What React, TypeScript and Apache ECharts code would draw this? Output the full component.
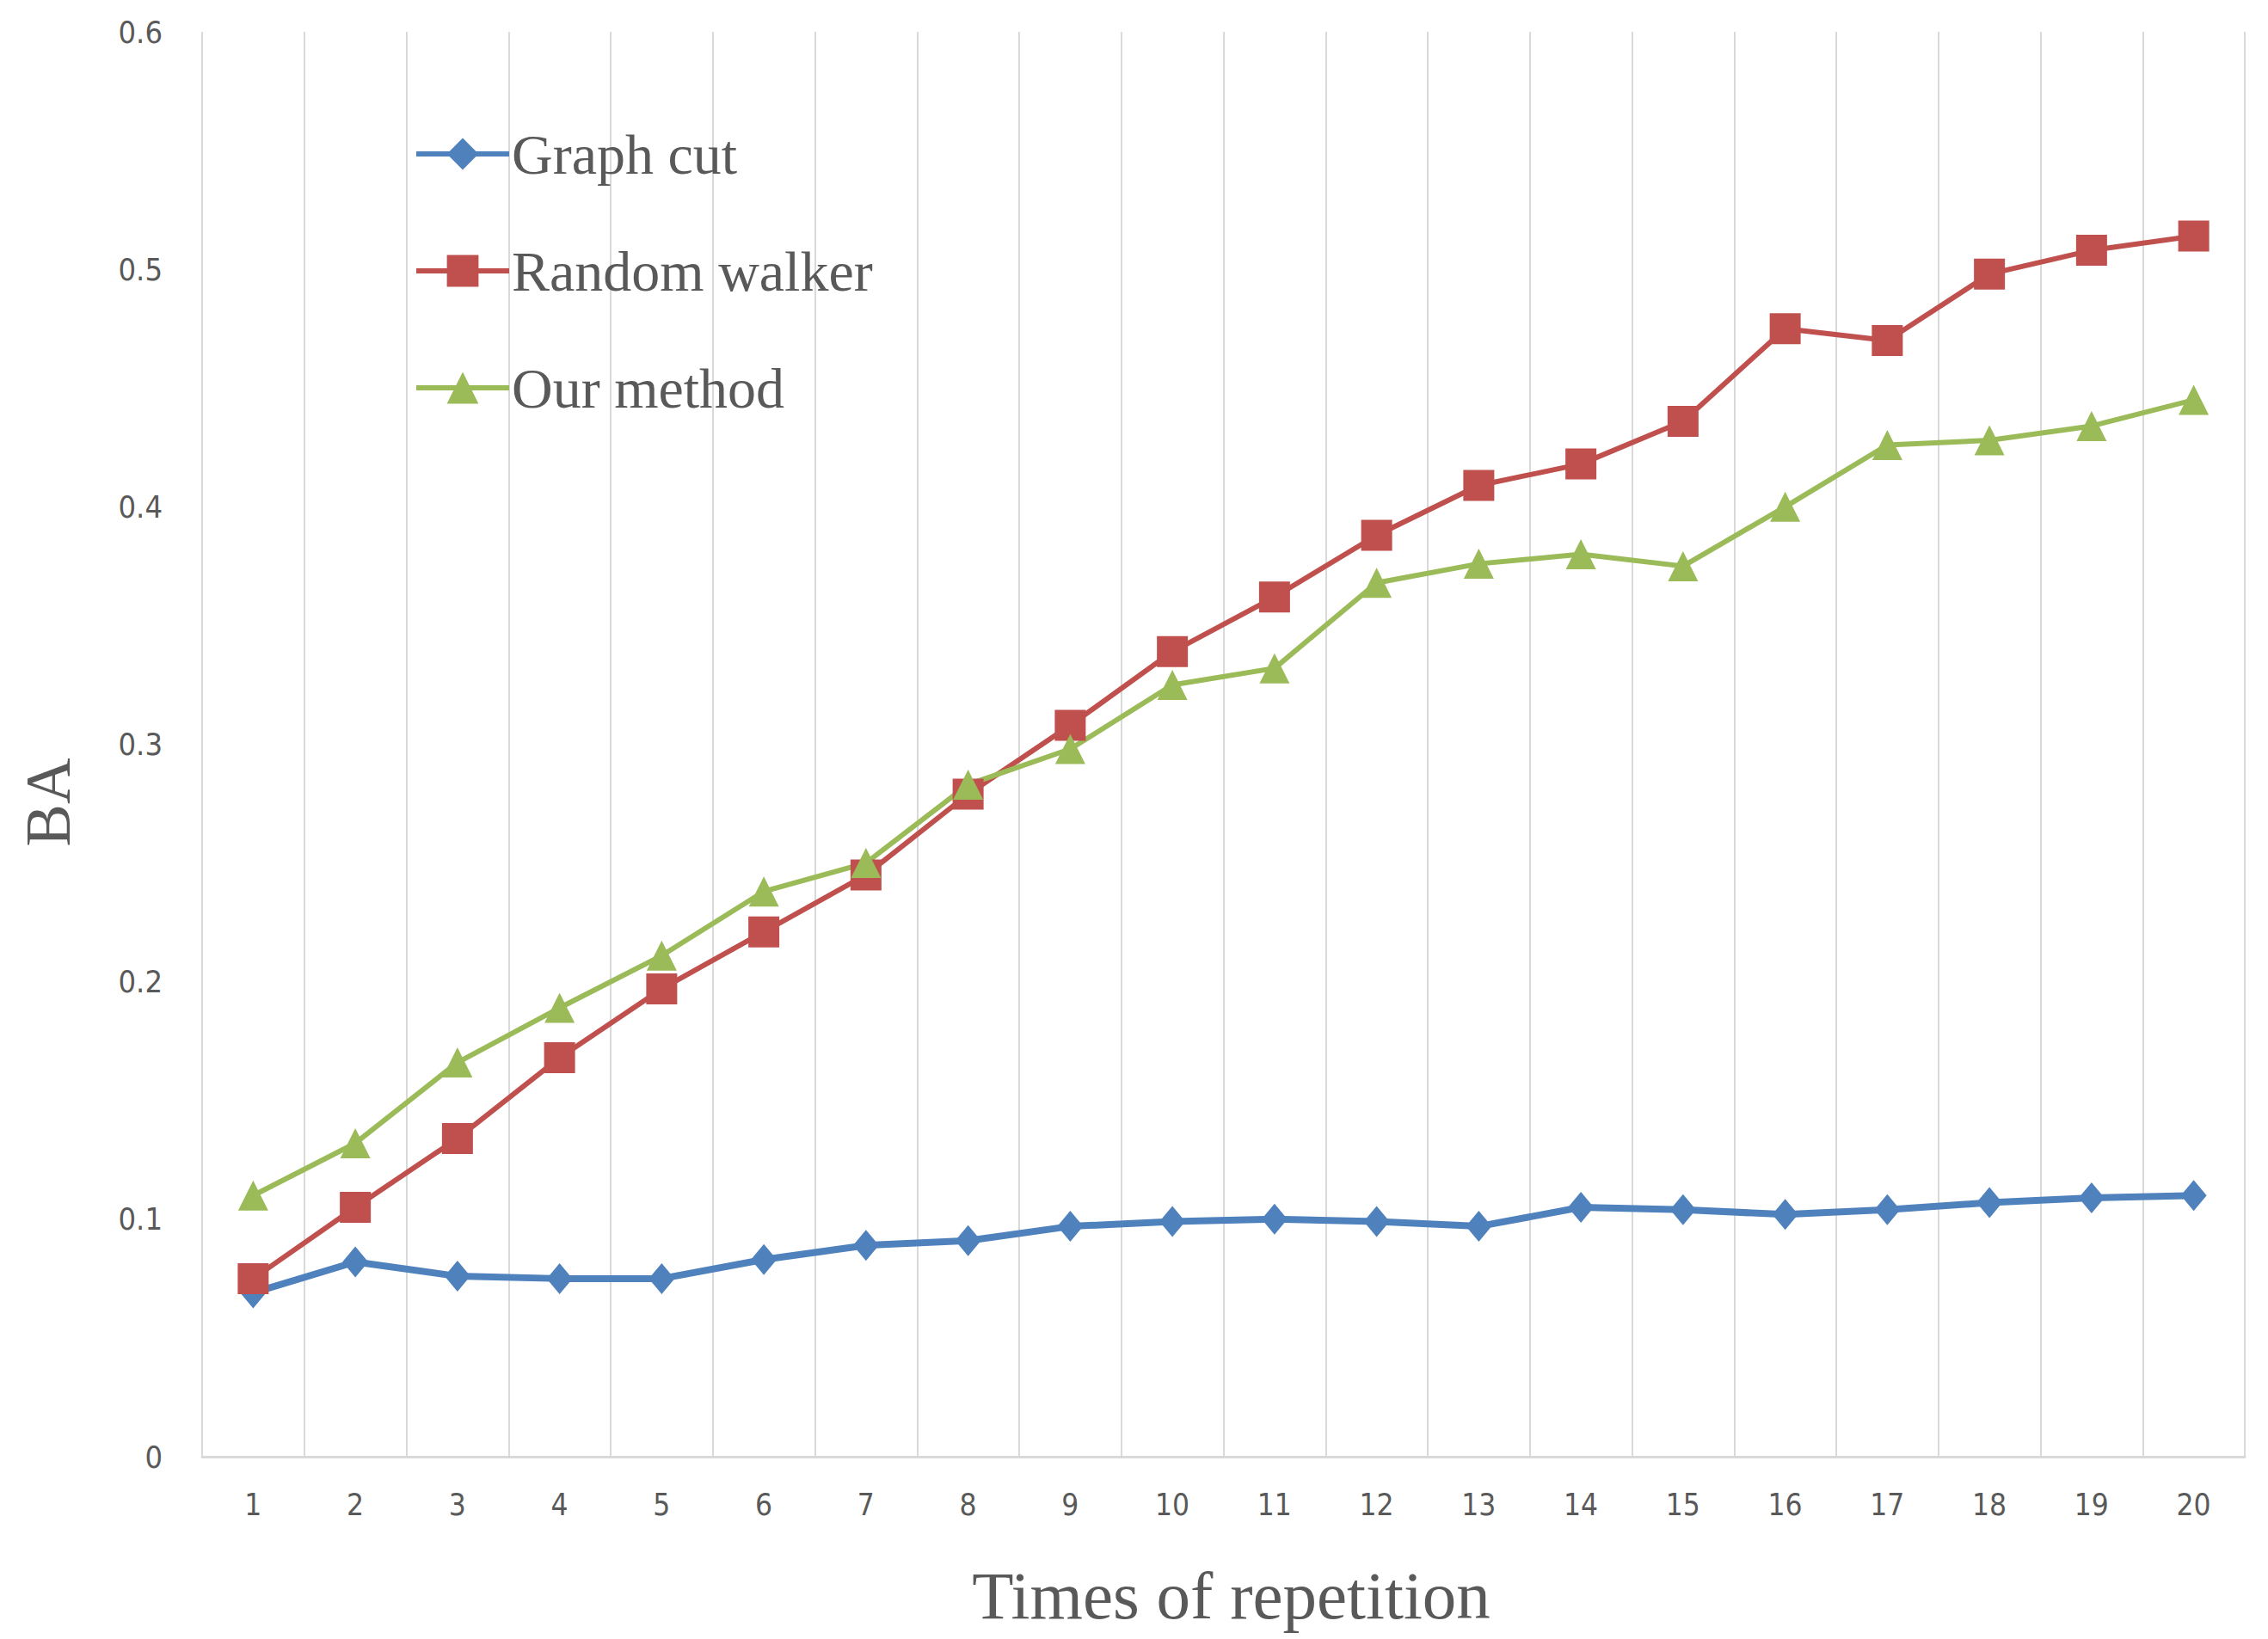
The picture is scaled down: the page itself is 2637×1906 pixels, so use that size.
import React, { useEffect, useRef } from "react";
import * as echarts from "echarts";

const categories = ["1", "2", "3", "4", "5", "6", "7", "8", "9", "10", "11", "12", "13", "14", "15", "16", "17", "18", "19", "20"];
const graphCut = [0.069, 0.082, 0.076, 0.075, 0.075, 0.083, 0.089, 0.091, 0.097, 0.099, 0.1, 0.099, 0.097, 0.105, 0.104, 0.102, 0.104, 0.107, 0.109, 0.11];
const randomWalker = [0.075, 0.105, 0.134, 0.168, 0.197, 0.221, 0.245, 0.279, 0.308, 0.339, 0.362, 0.388, 0.409, 0.418, 0.436, 0.475, 0.47, 0.498, 0.508, 0.514];
const ourMethod = [0.11, 0.132, 0.166, 0.189, 0.211, 0.238, 0.25, 0.283, 0.298, 0.325, 0.332, 0.368, 0.376, 0.38, 0.375, 0.4, 0.426, 0.428, 0.434, 0.445];
const seriesNames = ["Graph cut", "Random walker", "Our method"];
const yTitle = "BA";
const xTitle = "Times of repetition";

const SERIF = "'Liberation Serif', 'DejaVu Serif', serif";
const SANS = "'Liberation Sans Narrow', 'DejaVu Sans Condensed', 'Liberation Sans', sans-serif";
const TXT = "#595959";

export default function App() {
  const ref = useRef<HTMLDivElement>(null);
  useEffect(() => {
    if (!ref.current) return;
    const chart = echarts.init(ref.current, undefined, { renderer: "svg" });
    const mk = (name: string, data: number[], color: string, symbol: string, size: any, width: number) => ({
      name,
      type: "line",
      data,
      symbol,
      symbolSize: size,
      showSymbol: true,
      lineStyle: { color, width },
      itemStyle: { color },
      z: 3,
    });
    chart.setOption({
      animation: false,
      backgroundColor: "#ffffff",
      grid: { left: 235, right: 27, top: 37, bottom: 212, containLabel: false },
      legend: {
        orient: "vertical",
        left: 476,
        top: 141,
        itemWidth: 108,
        itemHeight: 46,
        itemGap: 70,
        data: seriesNames,
        lineStyle: { width: 6 },
        textStyle: { fontFamily: SERIF, fontSize: 66, color: TXT, lineHeight: 66, padding: [0, 0, 0, -2] },
      },
      graphic: [
        {
          type: "text",
          x: 56,
          y: 933,
          rotation: Math.PI / 2,
          style: { text: yTitle, fontFamily: SERIF, fontSize: 74, fill: TXT, align: "center", verticalAlign: "middle" },
        },
      ],
      xAxis: {
        type: "category",
        data: categories,
        boundaryGap: true,
        name: xTitle,
        nameLocation: "middle",
        nameGap: 122,
        nameTextStyle: { fontFamily: SERIF, fontSize: 79, color: TXT, padding: [0, 0, 0, 18] },
        axisLine: { show: true, lineStyle: { color: "#d9d9d9", width: 3 } },
        axisTick: { show: false },
        axisLabel: { margin: 38, fontFamily: SANS, fontSize: 35, color: TXT },
        splitLine: { show: true, lineStyle: { color: "#d9d9d9", width: 2 } },
      },
      yAxis: {
        type: "value",
        min: 0,
        max: 0.6,
        interval: 0.1,
        axisLine: { show: false },
        axisTick: { show: false },
        splitLine: { show: false },
        axisLabel: {
          margin: 46,
          fontFamily: SANS,
          fontSize: 36,
          color: TXT,
          formatter: (v: number) => (v === 0 ? "0" : String(Math.round(v * 10) / 10)),
        },
      },
      series: [
        mk(seriesNames[0], graphCut, "#4f81bd", "diamond", [30, 36], 8),
        mk(seriesNames[1], randomWalker, "#c0504d", "rect", 36, 6),
        mk(seriesNames[2], ourMethod, "#9bbb59", "triangle", 35, 6),
      ],
    });
    return () => chart.dispose();
  }, []);
  return <div ref={ref} style={{ position: "fixed", left: 0, top: 0, width: 2637, height: 1906 }} />;
}
